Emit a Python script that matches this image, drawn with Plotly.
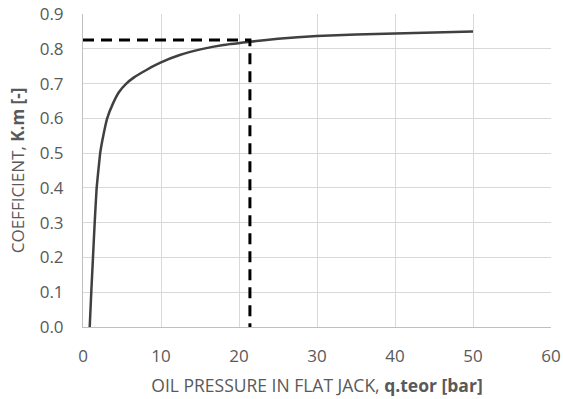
import plotly.graph_objects as go

pressure = [0.86, 1.06, 1.28, 1.5, 1.75, 2.2, 2.6, 3.1, 3.85, 4.6, 5.55, 6.5, 7.5, 8.76, 10, 12.4, 15.2, 18, 21.4, 25, 30, 35, 40, 45, 50]
coeff = [0.0, 0.1, 0.2, 0.3, 0.4, 0.5, 0.55, 0.6, 0.643, 0.675, 0.7, 0.717, 0.731, 0.747, 0.761, 0.782, 0.799, 0.811, 0.82, 0.829, 0.837, 0.841, 0.844, 0.847, 0.85]

guide_x = [0, 21.4, 21.4]
guide_y = [0.825, 0.825, 0.0]

x_ticks = [0, 10, 20, 30, 40, 50, 60]
y_ticks = [0.0, 0.1, 0.2, 0.3, 0.4, 0.5, 0.6, 0.7, 0.8, 0.9]

fig = go.Figure()
fig.add_trace(go.Scatter(x=pressure, y=coeff, mode="lines",
                         line=dict(color="#404040", width=2.5, shape="spline", smoothing=0.3),
                         showlegend=False, hoverinfo="skip"))
fig.add_trace(go.Scatter(x=guide_x, y=guide_y, mode="lines",
                         line=dict(color="#000000", width=3, dash="11px,7px"),
                         showlegend=False, hoverinfo="skip"))

font = "Open Sans, sans-serif"
fig.update_layout(
    width=563, height=399,
    margin=dict(l=83, r=12, t=14, b=72),
    paper_bgcolor="white", plot_bgcolor="white",
    font=dict(family=font, size=17, color="#595959"),
    xaxis=dict(range=[0, 60], tickvals=x_ticks, ticktext=[str(v) for v in x_ticks],
               showgrid=True, gridcolor="#d9d9d9", gridwidth=1,
               showline=True, linecolor="#bfbfbf", linewidth=1, mirror=False,
               zeroline=False, ticks="", ticklen=0, automargin=False,
               ticklabelstandoff=14,
               tickfont=dict(size=17, color="#595959"),
               title=dict(text="OIL PRESSURE IN FLAT JACK, <b>q.teor [bar]</b>",
                          font=dict(size=17.5, color="#595959"), standoff=13)),
    yaxis=dict(range=[0, 0.9], tickvals=y_ticks, ticktext=[f"{v:.1f}" for v in y_ticks],
               showgrid=True, gridcolor="#d9d9d9", gridwidth=1,
               showline=True, linecolor="#bfbfbf", linewidth=1,
               zeroline=False, ticks="", ticklen=0, automargin=False,
               ticklabelstandoff=15,
               tickfont=dict(size=17, color="#595959"),
               title=dict(text="COEFFICIENT, <b>K.m [-]</b>",
                          font=dict(size=17, color="#595959"), standoff=10)),
)
# remove the default page margin so the figure fills the 563x399 window exactly
fig.write_html("out.html", config={"displayModeBar": False},
               post_script="document.body.style.margin='0';")
